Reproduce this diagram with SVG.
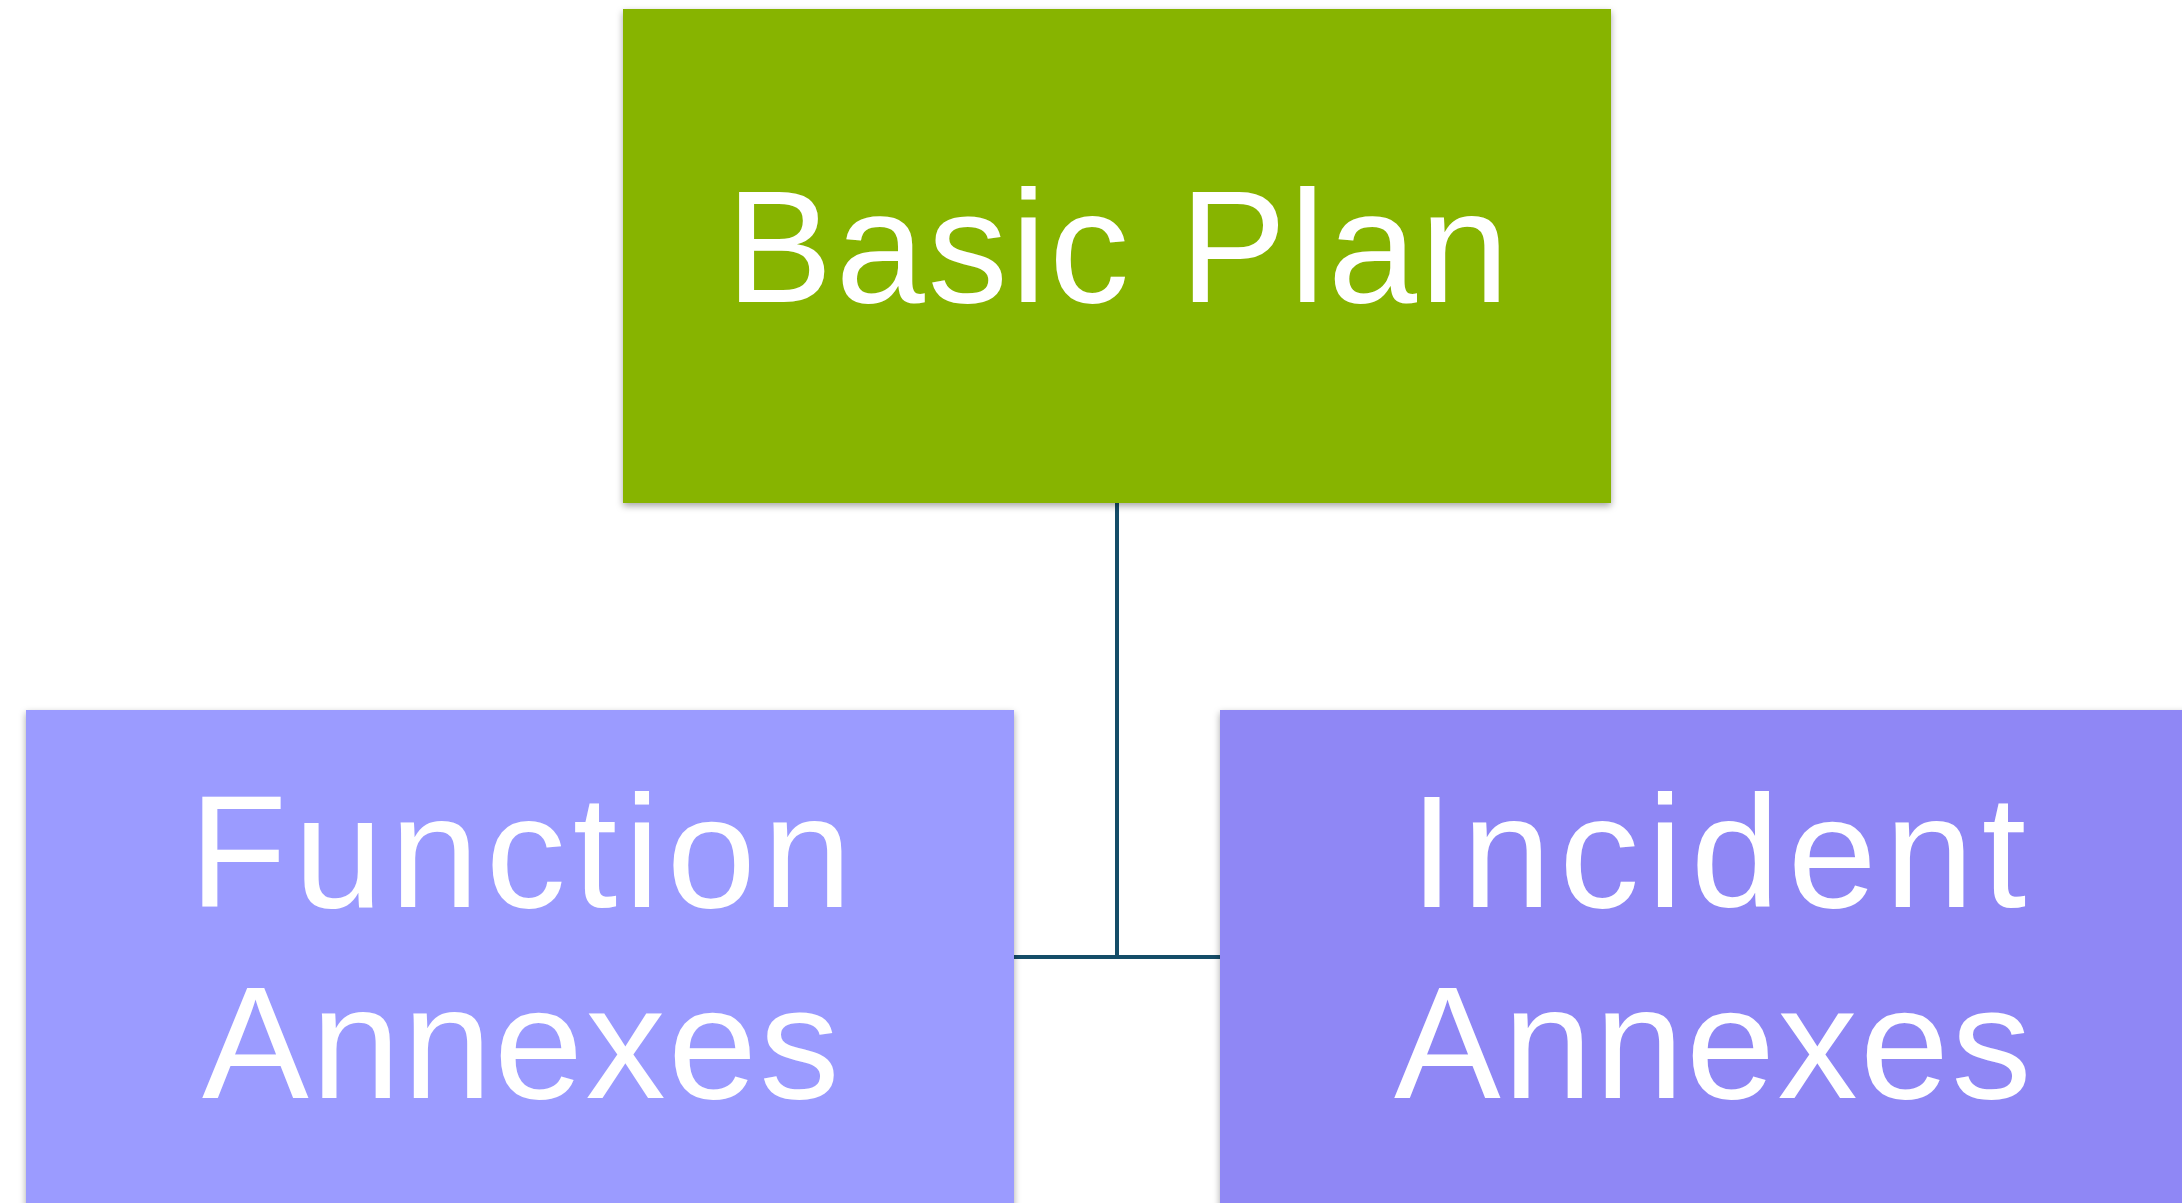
<svg xmlns="http://www.w3.org/2000/svg" width="2182" height="1203" viewBox="0 0 2182 1203">
<defs>
<filter id="sh" x="-5%" y="-5%" width="110%" height="115%">
<feDropShadow dx="0" dy="3" stdDeviation="3.5" flood-color="#000" flood-opacity="0.35"/>
</filter>
</defs>
<style>
.lbl{font-family:"Liberation Sans",Arial,sans-serif;font-size:160px;fill:#ffffff;text-anchor:middle}
.conn{stroke:#154d68;stroke-width:4;fill:none}
</style>
<rect x="0" y="0" width="2182" height="1203" fill="#ffffff"/>
<g id="connectors">
<line class="conn" x1="1117" y1="503" x2="1117" y2="957"/>
<line class="conn" x1="1012" y1="957" x2="1222" y2="957"/>
</g>
<g id="basic-plan">
<rect x="623" y="9" width="988" height="494" fill="#87b400" filter="url(#sh)"/>
<text class="lbl" x="1119" y="302" letter-spacing="3">Basic Plan</text>
</g>
<g id="function-annexes">
<rect x="26" y="710" width="988" height="560" fill="#9b9bff" filter="url(#sh)"/>
<text class="lbl" x="524" y="907" letter-spacing="7">Function</text>
<text class="lbl" x="522" y="1098" letter-spacing="2.5">Annexes</text>
</g>
<g id="incident-annexes">
<rect x="1220" y="710" width="988" height="560" fill="#8f87f5" filter="url(#sh)"/>
<text class="lbl" x="1722" y="907" letter-spacing="8">Incident</text>
<text class="lbl" x="1714" y="1098" letter-spacing="2.5">Annexes</text>
</g>
</svg>
